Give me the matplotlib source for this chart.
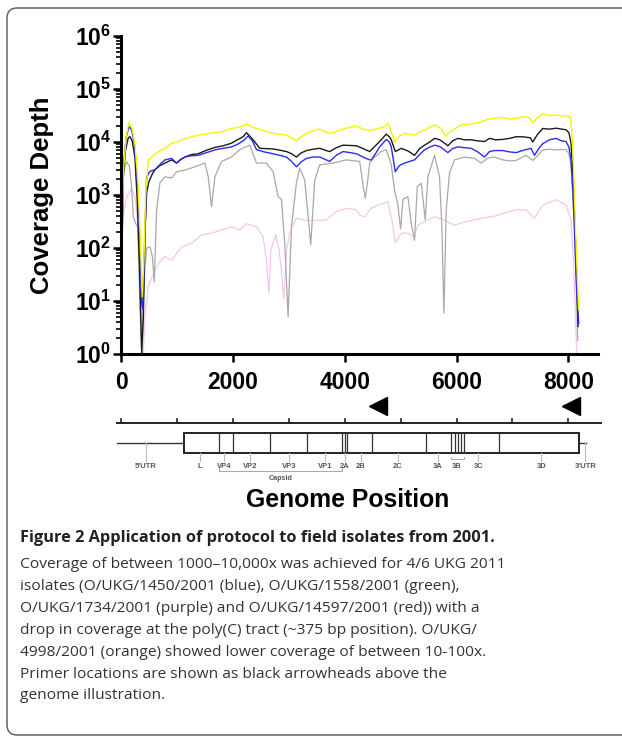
import numpy as np
import matplotlib
matplotlib.use("Agg")
import matplotlib.pyplot as plt
from matplotlib.patches import FancyBboxPatch, Rectangle
from matplotlib.ticker import LogLocator, FixedLocator, FuncFormatter, NullFormatter

plt.rcParams['font.family'] = ['Liberation Sans', 'DejaVu Sans']
plt.rcParams['mathtext.fontset'] = 'custom'
plt.rcParams['mathtext.rm'] = 'Liberation Sans:bold'
plt.rcParams['mathtext.bf'] = 'Liberation Sans:bold'

# coverage depth per isolate (genome position, depth)
yellow_pos = [0, 40, 90, 140, 190, 250, 300, 340, 380, 410, 440, 490, 550, 670, 790, 905,
              1000, 1080, 1200, 1380, 1500, 1680, 1800, 1980, 2100, 2185, 2244, 2360, 2480,
              2600, 2720, 2840, 2960, 3050, 3137, 3220, 3315, 3450, 3554, 3650, 3732, 3850,
              3970, 4100, 4209, 4330, 4446, 4595, 4714, 4773, 4830, 4893, 4980, 5071, 5160,
              5250, 5340, 5428, 5520, 5607, 5720, 5800, 5845, 5960, 6084, 6200, 6321, 6450,
              6560, 6679, 6827, 6950, 7066, 7200, 7300, 7363, 7450, 7542, 7660, 7780, 7880,
              7988, 8040, 8066, 8090, 8107, 8130, 8149, 8170, 8185]
yellow_depth = [12, 2500, 12000, 23000, 20000, 9000, 2000, 200, 12, 60, 1000, 4600, 5200,
                6600, 7600, 9500, 10000, 11000, 12000, 13500, 14000, 15000, 15500, 18000,
                19000, 20000, 22000, 19000, 17000, 16000, 14500, 14000, 13500, 12000, 10500,
                12500, 14500, 16500, 17500, 15500, 14500, 16000, 17500, 19000, 20000, 17500,
                16500, 18000, 19500, 23000, 16000, 10000, 13000, 14500, 14000, 13500, 15500,
                16500, 19000, 21000, 18000, 13000, 14500, 17500, 21000, 21500, 22500, 24000,
                27000, 28000, 29000, 27000, 28000, 30000, 29000, 23000, 29000, 34000, 32000,
                32000, 31000, 31000, 29000, 12500, 4000, 1100, 200, 59, 15, 7]

black_pos = [0, 40, 80, 130, 160, 200, 250, 290, 330, 370, 400, 430, 458, 500, 560, 607,
             700, 786, 905, 994, 1070, 1143, 1260, 1381, 1530, 1679, 1830, 1976, 2080, 2185,
             2244, 2300, 2363, 2482, 2600, 2720, 2840, 2960, 3050, 3137, 3220, 3315, 3430,
             3554, 3650, 3732, 3850, 3970, 4100, 4209, 4330, 4446, 4476, 4550, 4625, 4744,
             4800, 4833, 4905, 5012, 5130, 5250, 5340, 5428, 5520, 5607, 5700, 5786, 5845,
             5930, 6024, 6143, 6262, 6380, 6500, 6589, 6700, 6827, 6950, 7066, 7200, 7320,
             7363, 7450, 7542, 7660, 7780, 7880, 7959, 8010, 8048, 8080, 8107, 8130, 8149, 8173]
black_depth = [10, 2000, 7000, 12000, 12600, 10500, 5000, 800, 50, 1.05, 5, 200, 1100, 1800,
               2500, 3000, 3600, 4000, 4600, 4000, 4700, 5200, 5800, 6000, 7000, 7900, 8500,
               9500, 11000, 12600, 15000, 13000, 11000, 7600, 7500, 7400, 7000, 6600, 6000,
               5200, 6200, 6900, 7300, 7600, 7000, 6600, 7800, 8700, 8600, 8500, 7500, 6600,
               7100, 8500, 10200, 14100, 12500, 11000, 6600, 7600, 6800, 5600, 7500, 8700,
               10000, 11700, 11000, 9500, 8500, 10500, 11700, 11000, 11000, 10500, 10200,
               11700, 11000, 11200, 11700, 12600, 12500, 12000, 10000, 14000, 18000, 17500,
               18200, 17500, 17000, 15000, 9500, 2500, 520, 120, 29, 3.3]

blue_pos = [0, 40, 90, 143, 190, 240, 290, 330, 370, 390, 420, 458, 520, 607, 700, 786, 905,
            994, 1070, 1143, 1260, 1381, 1530, 1679, 1830, 1976, 2080, 2185, 2274, 2350, 2423,
            2560, 2720, 2840, 2960, 3050, 3137, 3220, 3315, 3430, 3554, 3650, 3732, 3850, 3970,
            4100, 4209, 4330, 4446, 4476, 4550, 4625, 4744, 4800, 4833, 4905, 4980, 5071, 5160,
            5250, 5340, 5428, 5520, 5607, 5700, 5786, 5845, 5930, 6024, 6143, 6262, 6380, 6500,
            6589, 6679, 6827, 6950, 7066, 7200, 7333, 7393, 7470, 7542, 7660, 7780, 7880, 7959,
            8010, 8048, 8080, 8107, 8130, 8149, 8185]
blue_depth = [12, 3000, 12000, 19500, 17000, 9000, 2000, 200, 9, 7, 100, 2200, 2800, 3000,
              3800, 4600, 4900, 4000, 4700, 5200, 5500, 5600, 6300, 7100, 7600, 8100, 9000,
              10500, 13000, 10500, 7200, 6500, 6000, 5600, 5200, 4300, 3400, 4200, 4900, 5200,
              5200, 4700, 4300, 5600, 6600, 6300, 6000, 5200, 4600, 4600, 6000, 8100, 11200,
              10000, 8100, 2750, 3600, 4000, 4300, 4600, 5800, 7100, 8000, 8700, 8200, 7100,
              6300, 7500, 8100, 7800, 7600, 6500, 5200, 6600, 6900, 6900, 6500, 6300, 7000,
              7600, 5600, 7500, 9300, 11000, 11700, 10500, 10200, 8000, 4600, 1200, 250, 50,
              14, 3.8]

gray_pos = [0, 50, 101, 150, 190, 220, 262, 300, 340, 370, 400, 416, 458, 518, 560, 595, 637,
            696, 786, 905, 994, 1143, 1321, 1500, 1560, 1619, 1679, 1798, 1976, 2125, 2304,
            2423, 2601, 2720, 2810, 2869, 2929, 2988, 3048, 3137, 3196, 3286, 3393, 3464, 3554,
            3792, 4030, 4268, 4330, 4369, 4410, 4446, 4536, 4655, 4744, 4833, 4893, 4952, 5000,
            5042, 5131, 5190, 5250, 5298, 5369, 5441, 5488, 5607, 5696, 5738, 5774, 5815, 5875,
            5964, 6143, 6321, 6440, 6560, 6679, 6827, 6950, 7066, 7244, 7363, 7450, 7542, 7660,
            7780, 7880, 7959, 8010, 8048, 8080, 8107, 8130, 8149, 8167]
gray_depth = [900, 3000, 4200, 3500, 1400, 400, 290, 250, 7, 1.05, 8, 29, 100, 105, 70, 23,
              520, 1700, 2200, 2100, 2750, 2950, 3400, 4000, 2200, 600, 2200, 4300, 5200, 7200,
              8700, 4000, 4000, 2750, 930, 830, 120, 5, 250, 1700, 3200, 1900, 115, 1900, 3700,
              4000, 4600, 4300, 1500, 870, 1800, 4000, 5200, 6600, 7200, 3700, 1200, 650, 230,
              830, 930, 290, 140, 1450, 1660, 340, 2200, 5600, 2200, 250, 5.9, 520, 2600, 4600,
              5200, 4900, 4000, 5000, 5200, 4600, 4400, 4500, 5600, 4500, 5500, 7100, 7300,
              7100, 7200, 7200, 6000, 3400, 1000, 250, 60, 14, 1.8]

pink_pos = [0, 50, 101, 190, 250, 310, 357, 399, 429, 488, 607, 700, 786, 905, 1000, 1083,
            1262, 1440, 1619, 1798, 1976, 2125, 2244, 2423, 2542, 2601, 2643, 2679, 2720, 2768,
            2827, 2869, 2911, 2960, 3018, 3077, 3137, 3315, 3494, 3673, 3851, 4030, 4209, 4268,
            4357, 4476, 4595, 4774, 4845, 4905, 5012, 5131, 5238, 5310, 5488, 5607, 5786, 5964,
            6143, 6321, 6500, 6679, 6827, 7066, 7244, 7393, 7542, 7780, 7959, 8048, 8089, 8125,
            8149]
pink_depth = [100, 500, 930, 1320, 930, 250, 38, 1.05, 5, 19, 38, 55, 69, 59, 80, 105, 123,
              178, 191, 219, 251, 219, 288, 251, 162, 59, 14, 91, 123, 178, 91, 38, 11, 91, 191,
              269, 363, 331, 331, 339, 490, 562, 525, 417, 389, 562, 646, 741, 339, 123, 191,
              191, 162, 269, 339, 389, 331, 269, 310, 339, 372, 398, 447, 525, 525, 363, 646,
              813, 646, 339, 59, 6.8, 1]

# genome map (FMDV polyprotein), positions in nt
utr5_end = 1126
orf_end = 8190
genome_end = 8315
gene_bounds = [1756, 2006, 2673, 3327, 3958, 4000, 4042, 4494, 5446, 5905, 5964, 6024,
               6083, 6125, 6768]
gene_labels = ["5'UTR", "L", "VP4", "VP2", "VP3", "VP1", "2A", "2B", "2C", "3A", "3B",
               "3C", "3D", "3'UTR"]
gene_label_pos = [446, 1411, 1839, 2304, 3000, 3643, 4000, 4286, 4946, 5661, 6000, 6393,
                  7518, 8304]
primer_pos = [4595, 8046]
ruler_ticks = [0, 1000, 2000, 3000, 4000, 5000, 6000, 7000, 8000]

W, H = 622, 741
fig = plt.figure(figsize=(W / 100, H / 100), dpi=100)

# outer rounded frame (right side runs off the page)
frame = FancyBboxPatch((0.07, 0.06), 6.6, 7.27, boxstyle='round,pad=0,rounding_size=0.1',
                       transform=fig.dpi_scale_trans, fill=False, edgecolor='#555555',
                       linewidth=1.0)
fig.patches.append(frame)

ax = fig.add_axes([121 / W, 1 - 354 / H, 477 / W, 318 / H])
ax.plot(pink_pos, pink_depth, color='#f5c6ee', lw=0.9)
ax.plot(gray_pos, gray_depth, color='#a8a8a8', lw=0.9)
ax.plot(black_pos, black_depth, color='#1a1a1a', lw=1.0)
ax.plot(blue_pos, blue_depth, color='#2b2bf5', lw=1.0)
ax.plot(yellow_pos, yellow_depth, color='#f5f500', lw=1.0)

ax.set_yscale('log')
ax.set_ylim(1, 1e6)
ax.set_xlim(0, 8530)
ax.xaxis.set_major_locator(FixedLocator([0, 2000, 4000, 6000, 8000]))
ax.yaxis.set_major_locator(LogLocator(base=10, numticks=10))
ax.yaxis.set_minor_locator(LogLocator(base=10, subs=np.arange(2, 10), numticks=20))
ax.yaxis.set_minor_formatter(NullFormatter())
ax.yaxis.set_major_formatter(FuncFormatter(lambda v, p: r'$\mathbf{10^{%d}}$' % round(np.log10(v))))
for s in ['top', 'right']:
    ax.spines[s].set_visible(False)
for s in ['left', 'bottom']:
    ax.spines[s].set_linewidth(2.2)
ax.tick_params(axis='both', which='major', length=6, width=1.8, labelsize=16.5, direction='out')
ax.tick_params(axis='y', which='minor', length=3.5, width=1.2)
ax.tick_params(axis='y', pad=1)
ax.tick_params(axis='x', pad=6)
for lab in ax.get_xticklabels():
    lab.set_fontweight('bold')
ax.set_ylabel('Coverage Depth', fontsize=18.5, fontweight='bold')
ax.yaxis.set_label_coords(-0.14, 0.5)

# genome illustration, y in pixel rows of the figure
gx = fig.add_axes([121 / W, 1 - 492 / H, 477 / W, 97 / H])
gx.set_xlim(0, 8530)
gx.set_ylim(492, 395)
gx.axis('off')

gx.plot(primer_pos, [406] * len(primer_pos), marker='<', ms=13, color='black', ls='none',
        clip_on=False)
gx.plot([-70, 8580], [423, 423], color='#222222', lw=1.4, clip_on=False)
for t in ruler_ticks:
    gx.plot([t, t], [423, 419], color='#222222', lw=1.2, clip_on=False)

gx.plot([-70, utr5_end], [443, 443], color='#333333', lw=1.0, clip_on=False)
gx.plot([orf_end, genome_end], [443, 443], color='#333333', lw=1.0, clip_on=False)
gx.add_patch(Rectangle((utr5_end, 433), orf_end - utr5_end, 20, fill=False,
                       edgecolor='#222222', lw=1.4))
for b in gene_bounds:
    gx.plot([b, b], [433, 453], color='#333333', lw=0.9)

for name, p in zip(gene_labels, gene_label_pos):
    top = 443 if name.endswith('UTR') else 453
    if name != '3B':
        gx.plot([p, p], [top, 461], color='#bbbbbb', lw=0.8, clip_on=False)
    gx.text(p, 466, name, ha='center', va='center', fontsize=5.5, fontweight='bold',
            color='#555555')

# 3B bracket and capsid bracket
gx.plot([5895, 5895, 6133, 6133], [457, 459, 459, 457], color='#aaaaaa', lw=0.7)
gx.plot([gene_bounds[0], gene_bounds[0], gene_bounds[4], gene_bounds[4]], [468, 471, 471, 468],
        color='#aaaaaa', lw=0.8)
gx.text((gene_bounds[0] + gene_bounds[4]) / 2, 479, 'Capsid', ha='center', va='center',
        fontsize=5.2, fontweight='bold', color='#555555')

fig.text(348 / W, 1 - 500 / H, 'Genome Position', ha='center', va='center', fontsize=17.8,
         fontweight='bold')

# caption
cap_font = ['Open Sans', 'DejaVu Sans']
fig.text(20 / W, 1 - 538 / H, 'Figure 2 Application of protocol to field isolates from 2001.',
         ha='left', va='center', fontsize=11.8, fontweight='bold', family=cap_font,
         color='#222222')
caption = [
    'Coverage of between 1000\u201310,000x was achieved for 4/6 UKG 2011',
    'isolates (O/UKG/1450/2001 (blue), O/UKG/1558/2001 (green),',
    'O/UKG/1734/2001 (purple) and O/UKG/14597/2001 (red)) with a',
    'drop in coverage at the poly(C) tract (~375 bp position). O/UKG/',
    '4998/2001 (orange) showed lower coverage of between 10-100x.',
    'Primer locations are shown as black arrowheads above the',
    'genome illustration.',
]
for i, line in enumerate(caption):
    fig.text(20 / W, 1 - (565 + 21.8 * i) / H, line, ha='left', va='center', fontsize=11.15,
             family=cap_font, color='#333333')

fig.savefig('out.png', dpi=100)
